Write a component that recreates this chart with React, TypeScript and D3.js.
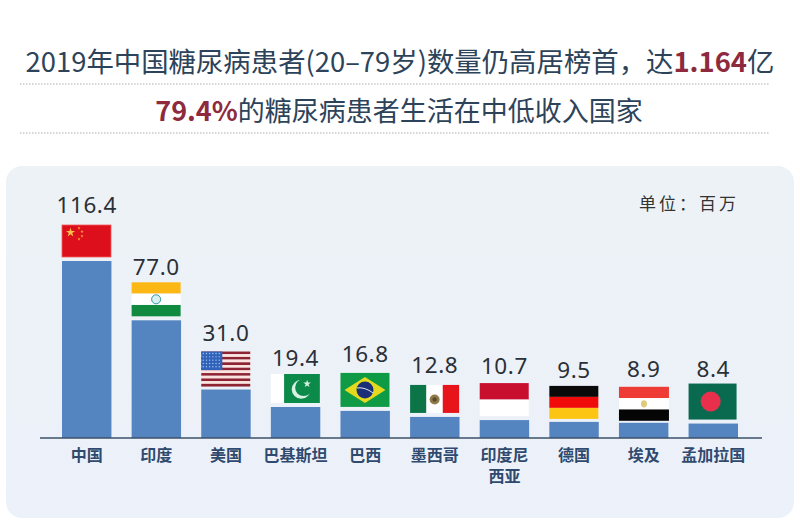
import React from 'react';
import * as d3 from 'd3';

const countries = ['中国', '印度', '美国', '巴基斯坦', '巴西', '墨西哥', '印度尼西亚', '德国', '埃及', '孟加拉国'];
const values = [116.4, 77.0, 31.0, 19.4, 16.8, 12.8, 10.7, 9.5, 8.9, 8.4];
const unitLabel = '单位：百万';

const CJK = '"Noto Sans CJK SC", "Noto Sans", sans-serif';
const NUM = '"Noto Sans", "Open Sans", sans-serif';

const width = 800;
const height = 532;
const baseline = 438;

const xScale = d3.scaleBand<string>()
  .domain(countries)
  .range([62, 738])
  .paddingInner(0.29);

// the picture's bars do not quite start at zero, small bars come out a little taller
const yScale = d3.scaleLinear()
  .domain([-1.2, 116.4])
  .range([baseline, 261]);

const star = (size: number) => d3.symbol().type(d3.symbolStar).size(size)() as string;

type FlagProps = { w: number; h: number };

const Stripes = ({ w, h, colors }: FlagProps & { colors: string[] }) => {
  const y = d3.scaleBand<number>().domain(d3.range(colors.length)).range([0, h]);
  return (
    <>
      {colors.map((c, i) => (
        <rect key={i} x={0} y={y(i)} width={w} height={y.bandwidth()} fill={c} />
      ))}
    </>
  );
};

const China = ({ w, h }: FlagProps) => (
  <>
    <rect width={w} height={h} fill="#de0f1c" stroke="#f25a5a" strokeWidth={0.8} />
    <path d={star(26)} transform="translate(8.5,7.5)" fill="#f7c04a" />
    {[[17, 3], [20, 6.5], [20, 11], [17, 14]].map(([a, b]) => (
      <path key={a * b} d={star(3.5)} transform={`translate(${a},${b})`} fill="#f2a03c" />
    ))}
  </>
);

const India = ({ w, h }: FlagProps) => (
  <>
    <Stripes w={w} h={h} colors={['#fbb814', '#ffffff', '#0f8a3e']} />
    <circle cx={w / 2} cy={h / 2} r={4.5} fill="#d9eef0" stroke="#2f9aa6" strokeWidth={1} />
  </>
);

const USA = ({ w, h }: FlagProps) => {
  const colors = d3.range(13).map((i) => (i % 2 ? '#fbe4e0' : '#8d2333'));
  const dots = d3.cross(d3.range(6), d3.range(5));
  return (
    <>
      <Stripes w={w} h={h} colors={colors} />
      <rect width={w * 0.43} height={h * 0.53} fill="#2f62b8" />
      {dots.map(([a, b]) => (
        <circle key={`${a}-${b}`} cx={2 + a * 3.2} cy={2 + b * 3.3} r={0.7} fill="#a9c6f2" />
      ))}
    </>
  );
};

const Pakistan = ({ w, h }: FlagProps) => (
  <>
    <rect width={w} height={h} fill="#ffffff" />
    <rect x={w * 0.27} width={w * 0.73} height={h} fill="#0b8a4a" />
    <circle cx={w * 0.62} cy={h * 0.53} r={9.5} fill="#d8f2e4" />
    <circle cx={w * 0.67} cy={h * 0.47} r={8.5} fill="#0b8a4a" />
    <path d={star(18)} transform={`translate(${w * 0.74},${h * 0.34})`} fill="#d8f2e4" />
  </>
);

const Brazil = ({ w, h }: FlagProps) => (
  <>
    <rect width={w} height={h} fill="#0f9a45" />
    <path d={`M4,${h / 2}L${w / 2},4L${w - 4},${h / 2}L${w / 2},${h - 4}Z`} fill="#e5d91e" />
    <circle cx={w / 2} cy={h / 2} r={8.5} fill="#1b2f78" />
    <path d={`M${w / 2 - 8},${h / 2 - 2}Q${w / 2},${h / 2 - 3} ${w / 2 + 8},${h / 2 + 3}`} stroke="#dfe6f0" strokeWidth={1} fill="none" />
  </>
);

const Mexico = ({ w, h }: FlagProps) => (
  <>
    <rect width={w / 3} height={h} fill="#0b7547" />
    <rect x={w / 3} width={w / 3} height={h} fill="#ffffff" />
    <rect x={(w * 2) / 3} width={w / 3} height={h} fill="#e8141c" />
    <circle cx={w / 2} cy={h / 2 + 0.5} r={5} fill="#8f7a4a" />
    <circle cx={w / 2} cy={h / 2 + 0.5} r={2.2} fill="#5a4a2a" />
  </>
);

const Indonesia = ({ w, h }: FlagProps) => (
  <Stripes w={w} h={h} colors={['#c8102e', '#ffffff']} />
);

const Germany = ({ w, h }: FlagProps) => (
  <Stripes w={w} h={h} colors={['#0a0a0a', '#f00a0a', '#fcc514']} />
);

const Egypt = ({ w, h }: FlagProps) => (
  <>
    <Stripes w={w} h={h} colors={['#ee3b36', '#ffffff', '#050505']} />
    <ellipse cx={w / 2} cy={h / 2} rx={3} ry={3.6} fill="#e0cb78" />
  </>
);

const Bangladesh = ({ w, h }: FlagProps) => (
  <>
    <rect width={w} height={h} fill="#0a6a50" />
    <circle cx={w * 0.46} cy={h / 2} r={10} fill="#e8304c" />
  </>
);

// flag drawing and how tall it sits in the picture, label offset above it
const flags: { Comp: (p: FlagProps) => React.JSX.Element; h: number; w: number; gap: number; lab: number }[] = [
  { Comp: China, h: 32, w: 49, gap: 4, lab: 20 },
  { Comp: India, h: 34, w: 49, gap: 4, lab: 15 },
  { Comp: USA, h: 35, w: 49, gap: 3, lab: 19 },
  { Comp: Pakistan, h: 29, w: 49, gap: 4, lab: 16 },
  { Comp: Brazil, h: 34, w: 49, gap: 4, lab: 19 },
  { Comp: Mexico, h: 28, w: 49, gap: 4, lab: 20 },
  { Comp: Indonesia, h: 33, w: 49, gap: 4, lab: 17 },
  { Comp: Germany, h: 33, w: 49, gap: 3, lab: 16 },
  { Comp: Egypt, h: 34, w: 50, gap: 2, lab: 18 },
  { Comp: Bangladesh, h: 36, w: 48, gap: 4, lab: 15 },
];

const wrapLabel = (name: string) => (name.length > 4 ? [name.slice(0, 3), name.slice(3)] : [name]);

const App = () => (
  <svg
    width={width}
    height={height}
    viewBox={`0 0 ${width} ${height}`}
    style={{ position: 'absolute', left: 0, top: 0, background: '#fff' }}
  >
    <defs>
      <linearGradient id="panel" x1="0" y1="0" x2="0" y2="1">
        <stop offset="0" stopColor="#edf2f6" />
        <stop offset="1" stopColor="#ecf1fa" />
      </linearGradient>
    </defs>

    <text x={400} y={72} textAnchor="middle" fontFamily={CJK} fontSize={27.4} fill="#2d4359">
      2019年中国糖尿病患者(20–79岁)数量仍高居榜首，达
      <tspan fontWeight="700" fill="#8e2a3e">1.164</tspan>
      亿
    </text>
    <line x1={20} x2={770} y1={84} y2={84} stroke="#a9adb0" strokeWidth={1.2} strokeDasharray="1.5 1.5" />
    <text x={399} y={121} textAnchor="middle" fontFamily={CJK} fontSize={27} fill="#2d4359">
      <tspan fontWeight="700" fill="#8e2a3e">79.4%</tspan>
      的糖尿病患者生活在中低收入国家
    </text>
    <line x1={20} x2={770} y1={133} y2={133} stroke="#a9adb0" strokeWidth={1.2} strokeDasharray="1.5 1.5" />

    <rect x={6} y={166} width={788} height={352} rx={16} fill="url(#panel)" />

    <text x={689} y={210} textAnchor="middle" fontFamily={CJK} fontSize={17} letterSpacing={3} fill="#333">{unitLabel}</text>

    {countries.map((name, i) => {
      const x = xScale(name) as number;
      const top = yScale(values[i]);
      const { Comp, h, w, gap, lab } = flags[i];
      const flagTop = top - gap - h;
      return (
        <g key={name}>
          <rect x={x} y={top} width={xScale.bandwidth()} height={baseline - top} fill="#5585c0" />
          <g transform={`translate(${x},${flagTop})`}>
            <Comp w={w} h={h} />
          </g>
          <text
            x={x + xScale.bandwidth() / 2}
            y={flagTop - lab + 8}
            textAnchor="middle"
            fontFamily={NUM}
            fontSize={22.5}
            letterSpacing={0.6}
            fill="#2b2f36"
          >
            {values[i].toFixed(1)}
          </text>
          <text textAnchor="middle" fontFamily={CJK} fontSize={16} fontWeight="700" fill="#2f4a6e">
            {wrapLabel(name).map((part, j) => (
              <tspan key={part} x={x + xScale.bandwidth() / 2} y={461 + j * 21}>{part}</tspan>
            ))}
          </text>
        </g>
      );
    })}

    <line x1={40} x2={762} y1={baseline} y2={baseline} stroke="#3d5068" strokeWidth={1.5} />
  </svg>
);

export default App;
